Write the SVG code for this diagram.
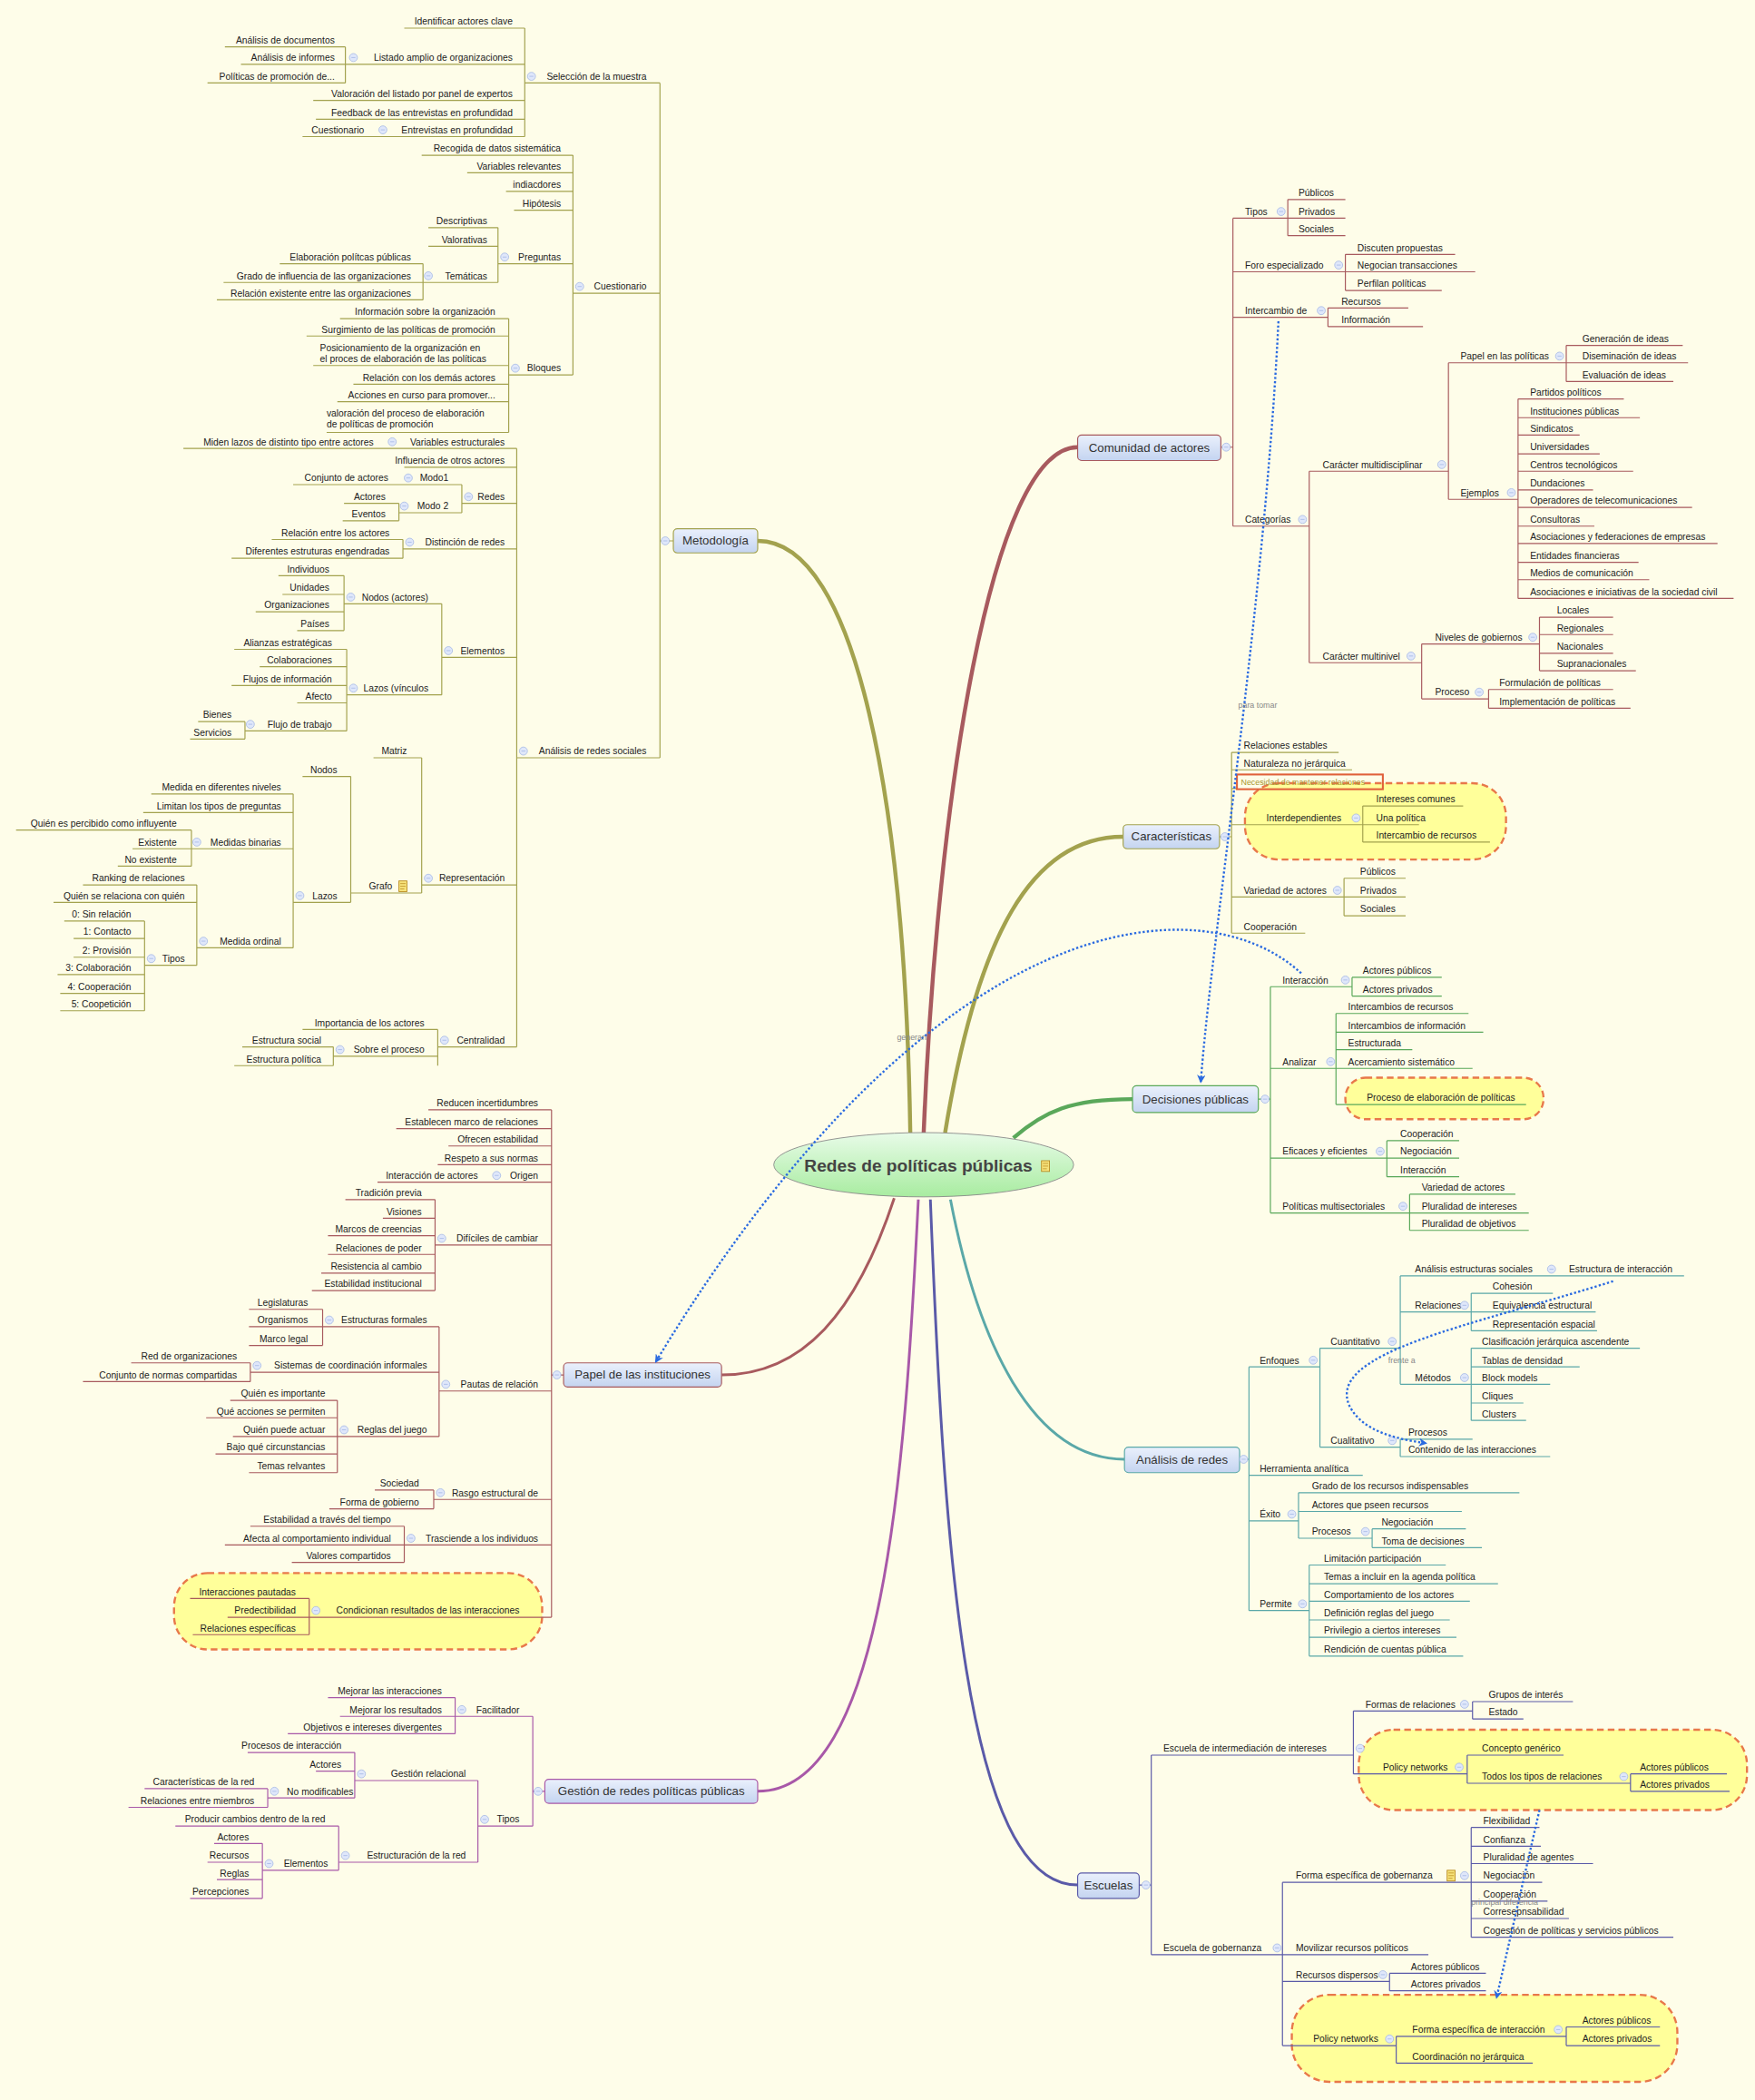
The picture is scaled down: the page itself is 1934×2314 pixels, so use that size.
<svg xmlns="http://www.w3.org/2000/svg" xmlns:xlink="http://www.w3.org/1999/xlink" width="1934" height="2314" viewBox="0 0 1934 2314">
<defs>
<style>
text{font-family:"Liberation Sans","DejaVu Sans",sans-serif;font-size:7px;fill:#222}
.e{text-anchor:end}
.ln{fill:none;stroke-width:0.8;stroke-linejoin:round}
.ol{stroke:#a3a24e}.rd{stroke:#a85a5e}.gr{stroke:#5aa85a}.tl{stroke:#5aa8a8}.in{stroke:#5a5aa8}.pu{stroke:#a858a8}
.box{fill:url(#bg);stroke-width:0.8}
.mt{font-size:9px;fill:#333}
.cl{fill:#ffff9a;stroke:#e8784a;stroke-width:1.6;stroke-dasharray:5 3}
.rel{fill:none;stroke:#2a6ae0;stroke-width:1.6;stroke-dasharray:1.6 1.6}
.rl{font-size:6px;fill:#888}
.c circle{fill:#dfe7fa;stroke:#9fb4e4;stroke-width:0.5}
</style>
<linearGradient id="bg" x1="0" y1="0" x2="0" y2="1"><stop offset="0" stop-color="#eaf0fc"/><stop offset="1" stop-color="#c4d4f0"/></linearGradient>
<linearGradient id="cg" x1="0" y1="0" x2="0" y2="1"><stop offset="0" stop-color="#e8fbe8"/><stop offset="1" stop-color="#a8eca0"/></linearGradient>
<g id="c" class="c"><circle r="3"/><path d="M-1.5 0H1.5" stroke="#9fb4e4" stroke-width="0.5"/></g>
<g id="note"><rect x="-3" y="-4" width="6" height="8" fill="#f6e27a" stroke="#b88a20" stroke-width="0.6"/><path d="M-2 -2H2M-2 0H2M-2 2H1" stroke="#b88a20" stroke-width="0.5"/></g>
<marker id="ar" viewBox="0 0 10 10" refX="8" refY="5" markerWidth="4" markerHeight="4" orient="auto"><path d="M0 0L10 5L0 10L3 5Z" fill="#2a6ae0"/></marker>
</defs>
<rect width="1934" height="2314" fill="#fefde9"/>
<g transform="scale(1.47521)">
<g id="clouds">
<rect class="cl" x="130" y="1175" width="275" height="57" rx="25"/>
<rect class="cl" x="930" y="585" width="195" height="57" rx="25"/>
<rect class="cl" x="1005" y="805" width="148" height="31" rx="15"/>
<rect class="cl" x="1015" y="1292" width="290" height="60" rx="26"/>
<rect class="cl" x="965" y="1490" width="288" height="65" rx="28"/>
</g>
<g id="connectors">
<path d="M680 846 C676 600 640 404 566 404" fill="none" stroke="#a3a24e" stroke-width="3"/>
<path d="M690 846 C700 600 740 334 805 334" fill="none" stroke="#a85a5e" stroke-width="3"/>
<path d="M706 846 C730 700 770 625 839 625" fill="none" stroke="#a3a24e" stroke-width="3"/>
<path d="M757 850 C780 830 800 821 846 821" fill="none" stroke="#5aa85a" stroke-width="3"/>
<path d="M668 895 C640 980 600 1027 539 1027" fill="none" stroke="#a85a5e" stroke-width="2"/>
<path d="M686 896 C676 1100 660 1338 566 1338" fill="none" stroke="#a858a8" stroke-width="2"/>
<path d="M695 896 C705 1150 720 1408 805 1408" fill="none" stroke="#5a5aa8" stroke-width="2"/>
<path d="M710 896 C730 1000 770 1090 840 1090" fill="none" stroke="#5aa8a8" stroke-width="2"/>
<path class="ln ol" d="M493 62V566M493 404H503M392 62H493M392 21V102M302 21H392M258 48H392M258 35V62M168 35H258M180 48H258M155 62H258M234 75H392M236 89H392M291 102H392M226 102H291M428 219H493M428 116V280M315 116H428M349 129H428M378 143H428M384 157H428M372 197H428M372 170V211M320 170H372M320 184H372M316 211H372M316 197V224M209 197H316M167 211H316M162 224H316M380 280H428M380 238V323M254 238H380M229 251H380M234 273H380M264 287H380M252 300H380M244 323H380M386 566H493M386 335V782M289 335H386M137 335H289M302 349H386M345 376H386M345 362V383M300 362H345M219 362H300M298 383H345M298 376V389M257 376H298M256 389H298M301 410H386M301 403V417M203 403H301M173 417H301M330 491H386M330 451V519M257 451H330M257 430V471M208 430H257M211 444H257M191 457H257M222 471H257M259 519H330M259 485V546M175 485H259M194 498H259M173 512H259M222 525H259M183 546H259M183 539V552M148 539H183M142 552H183M315 661H386M315 566V667M279 566H315M262 667H315M262 580V674M226 580H262M219 674H262M219 593V708M113 593H219M107 607H219M143 634H219M143 620V647M12 620H143M99 634H143M88 647H143M147 708H219M147 661V721M62 661H147M40 674H147M108 721H147M108 688V755M48 688H108M55 701H108M55 715H108M43 728H108M45 742H108M45 755H108M327 782H386M327 769V796M226 769H327M249 789H327M249 782V796M181 782H249M175 796H249"/>
<path class="ln rd" d="M412 1027H421M412 829V1208M320 829H412M296 843H412M335 856H412M327 870H412M366 883H412M282 883H366M325 930H412M325 896V964M258 896H325M286 910H325M245 923H325M245 937H325M240 951H325M233 964H325M328 1039H412M328 991V1073M241 991H328M241 978V1005M186 978H241M186 991H241M186 1005H241M187 1025H328M187 1018V1032M98 1018H187M62 1032H187M252 1073H328M252 1046V1100M172 1046H252M154 1059H252M174 1073H252M161 1086H252M186 1100H252M324 1120H412M324 1113V1127M280 1113H324M246 1127H324M302 1154H412M302 1140V1167M187 1140H302M168 1154H302M218 1167H302M231 1208H412M231 1194V1221M142 1194H231M170 1208H231M144 1221H231"/>
<path class="ln pu" d="M398 1338H407M398 1282V1364M340 1282H398M340 1268V1295M245 1268H340M254 1282H340M215 1295H340M357 1364H398M357 1330V1391M265 1330H357M265 1309V1343M185 1309H265M236 1323H265M200 1343H265M200 1336V1350M108 1336H200M96 1350H200M253 1391H357M253 1364V1397M131 1364H253M196 1397H253M196 1377V1418M160 1377H196M155 1391H196M162 1404H196M142 1418H196"/>
<path class="ln rd" d="M912 334H921M921 163V393M921 163H962M962 149V176M962 149H1005M962 163H1005M962 176H1005M921 203H1005M1005 190V217M1005 190H1087M1005 203H1102M1005 217H1077M921 237H992M992 230V244M992 230H1052M992 244H1063M921 393H978M978 352V495M978 352H1082M1082 271V373M1082 271H1170M1170 258V285M1170 258H1257M1170 271H1261M1170 285H1250M1082 373H1134M1134 298V447M1134 298H1213M1134 312H1225M1134 325H1180M1134 339H1195M1134 352H1220M1134 366H1190M1134 379H1264M1134 393H1191M1134 406H1283M1134 420H1224M1134 433H1232M1134 447H1295M978 495H1062M1062 481V522M1062 481H1150M1150 461V501M1150 461H1205M1150 474H1205M1150 488H1205M1150 501H1222M1062 522H1112M1112 515V529M1112 515H1205M1112 529H1218"/>
<path class="ln ol" d="M911 625H920M920 562V697M920 562H1000M920 575H1010M920 589H924M920 616H1018M1018 602V629M1018 602H1093M1018 616H1060M1018 629H1113M920 670H1004M1004 656V684M1004 656H1050M1004 670H1050M1004 684H1050M920 697H975"/>
<path class="ln gr" d="M940 821H949M949 737V906M949 737H1010M1010 730V744M1010 730H1077M1010 744H1077M949 798H998M998 757V825M998 757H1097M998 771H1108M998 784H1055M998 798H1100M998 825H1140M949 865H1036M1036 852V879M1036 852H1090M1036 865H1090M1036 879H1090M949 906H1053M1053 892V919M1053 892H1132M1053 906H1142M1053 919H1142"/>
<path class="ln tl" d="M926 1090H933M933 1021V1203M933 1021H986M986 1007V1081M986 1007H1046M1046 953V1034M1046 953H1258M1046 980H1099M1099 966V994M1099 966H1160M1099 980H1192M1099 994H1193M1046 1034H1099M1099 1007V1061M1099 1007H1225M1099 1021H1180M1099 1034H1158M1099 1048H1138M1099 1061H1140M986 1081H1046M1046 1075V1088M1046 1075H1100M1046 1088H1158M933 1102H1018M933 1136H970M970 1115V1149M970 1115H1135M970 1129H1092M970 1149H1025M1025 1142V1156M1025 1142H1095M1025 1156H1107M933 1203H978M978 1169V1237M978 1169H1080M978 1183H1119M978 1196H1098M978 1210H1083M978 1223H1088M978 1237H1093"/>
<path class="ln in" d="M851 1408H860M860 1311V1460M860 1311H1011M1011 1278V1325M1011 1278H1100M1100 1271V1284M1100 1271H1175M1100 1284H1138M1011 1325H1096M1096 1311V1332M1096 1311H1168M1096 1332H1218M1218 1325V1338M1218 1325H1290M1218 1338H1292M860 1460H958M958 1406V1528M958 1406H1099M1099 1365V1447M1099 1365H1150M1099 1379H1151M1099 1392H1190M1099 1406H1152M1099 1420H1156M1099 1433H1172M1099 1447H1250M958 1460H1067M958 1480H1038M1038 1474V1487M1038 1474H1110M1038 1487H1110M958 1528H1043M1043 1521V1541M1043 1521H1170M1170 1514V1528M1170 1514H1240M1170 1528H1240M1043 1541H1145"/>
</g>
<g id="center">
<ellipse cx="690" cy="870" rx="112" ry="24" fill="url(#cg)" stroke="#888" stroke-width="0.6"/>
<text x="686" y="875" style="font-size:13px;font-weight:bold;fill:#444;text-anchor:middle">Redes de políticas públicas</text>
<use href="#note" x="781" y="871"/>
</g>
<g id="main">
<g id="n-metodologia"><rect class="box ol" x="503" y="395" width="63" height="18" rx="3"/><text class="mt" x="534.5" y="407" style="text-anchor:middle">Metodología</text><use href="#c" x="497" y="404"/></g>
<g id="n-papel"><rect class="box rd" x="421" y="1018" width="118" height="18" rx="3"/><text class="mt" x="480" y="1030" style="text-anchor:middle">Papel de las instituciones</text><use href="#c" x="416" y="1027"/></g>
<g id="n-gestion"><rect class="box pu" x="407" y="1329" width="159" height="18" rx="3"/><text class="mt" x="486.5" y="1341" style="text-anchor:middle">Gestión de redes políticas públicas</text><use href="#c" x="402" y="1338"/></g>
<g id="n-comunidad"><rect class="box rd" x="805" y="325" width="107" height="19" rx="3"/><text class="mt" x="858.5" y="337.5" style="text-anchor:middle">Comunidad de actores</text><use href="#c" x="916" y="334"/></g>
<g id="n-caracteristicas"><rect class="box ol" x="839" y="616" width="72" height="18" rx="3"/><text class="mt" x="875" y="628" style="text-anchor:middle">Características</text><use href="#c" x="915" y="625"/></g>
<g id="n-decisiones"><rect class="box gr" x="846" y="811" width="94" height="20" rx="3"/><text class="mt" x="893" y="824" style="text-anchor:middle">Decisiones públicas</text><use href="#c" x="945" y="821"/></g>
<g id="n-analisis"><rect class="box tl" x="840" y="1081" width="86" height="19" rx="3"/><text class="mt" x="883" y="1093.5" style="text-anchor:middle">Análisis de redes</text><use href="#c" x="929" y="1090"/></g>
<g id="n-escuelas"><rect class="box in" x="805" y="1399" width="46" height="19" rx="3"/><text class="mt" x="828" y="1411.5" style="text-anchor:middle">Escuelas</text><use href="#c" x="856" y="1408"/></g>
</g>
<g id="metodologia-nodes">
<text class="e" x="483" y="59.5">Selección de la muestra</text>
<text class="e" x="383" y="18.5">Identificar actores clave</text>
<text class="e" x="383" y="45.5">Listado amplio de organizaciones</text>
<text class="e" x="250" y="32.5">Análisis de documentos</text>
<text class="e" x="250" y="45.5">Análisis de informes</text>
<text class="e" x="250" y="59.5">Políticas de promoción de...</text>
<text class="e" x="383" y="72.5">Valoración del listado por panel de expertos</text>
<text class="e" x="383" y="86.5">Feedback de las entrevistas en profundidad</text>
<text class="e" x="383" y="99.5">Entrevistas en profundidad</text>
<text class="e" x="272" y="99.5">Cuestionario</text>
<text class="e" x="483" y="216.5">Cuestionario</text>
<text class="e" x="419" y="113.5">Recogida de datos sistemática</text>
<text class="e" x="419" y="126.5">Variables relevantes</text>
<text class="e" x="419" y="140.5">indiacdores</text>
<text class="e" x="419" y="154.5">Hipótesis</text>
<text class="e" x="419" y="194.5">Preguntas</text>
<text class="e" x="364" y="167.5">Descriptivas</text>
<text class="e" x="364" y="181.5">Valorativas</text>
<text class="e" x="364" y="208.5">Temáticas</text>
<text class="e" x="307" y="194.5">Elaboración polítcas públicas</text>
<text class="e" x="307" y="208.5">Grado de influencia de las organizaciones</text>
<text class="e" x="307" y="221.5">Relación existente entre las organizaciones</text>
<text class="e" x="419" y="277.5">Bloques</text>
<text class="e" x="370" y="235.5">Información sobre la organización</text>
<text class="e" x="370" y="248.5">Surgimiento de las políticas de promoción</text>
<text x="239" y="262">Posicionamiento de la organización en</text>
<text x="239" y="270.5">el proces de elaboración de las políticas</text>
<text class="e" x="370" y="284.5">Relación con los demás actores</text>
<text class="e" x="370" y="297.5">Acciones en curso para promover...</text>
<text x="244" y="311">valoración del proceso de elaboración</text>
<text x="244" y="319.5">de políticas de promoción</text>
<text class="e" x="483" y="563.5">Análisis de redes sociales</text>
<text class="e" x="377" y="332.5">Variables estructurales</text>
<text class="e" x="279" y="332.5">Miden lazos de distinto tipo entre actores</text>
<text class="e" x="377" y="346.5">Influencia de otros actores</text>
<text class="e" x="377" y="373.5">Redes</text>
<text class="e" x="335" y="359.5">Modo1</text>
<text class="e" x="290" y="359.5">Conjunto de actores</text>
<text class="e" x="335" y="380.5">Modo 2</text>
<text class="e" x="288" y="373.5">Actores</text>
<text class="e" x="288" y="386.5">Eventos</text>
<text class="e" x="377" y="407.5">Distinción de redes</text>
<text class="e" x="291" y="400.5">Relación entre los actores</text>
<text class="e" x="291" y="414.5">Diferentes estruturas engendradas</text>
<text class="e" x="377" y="488.5">Elementos</text>
<text class="e" x="320" y="448.5">Nodos (actores)</text>
<text class="e" x="246" y="427.5">Individuos</text>
<text class="e" x="246" y="441.5">Unidades</text>
<text class="e" x="246" y="454.5">Organizaciones</text>
<text class="e" x="246" y="468.5">Países</text>
<text class="e" x="320" y="516.5">Lazos (vínculos</text>
<text class="e" x="248" y="482.5">Alianzas estratégicas</text>
<text class="e" x="248" y="495.5">Colaboraciones</text>
<text class="e" x="248" y="509.5">Flujos de información</text>
<text class="e" x="248" y="522.5">Afecto</text>
<text class="e" x="248" y="543.5">Flujo de trabajo</text>
<text class="e" x="173" y="536.5">Bienes</text>
<text class="e" x="173" y="549.5">Servicios</text>
<text class="e" x="377" y="658.5">Representación</text>
<text class="e" x="304" y="563.5">Matriz</text>
<text class="e" x="293" y="664.5">Grafo</text>
<use href="#note" x="301" y="662"/>
<text class="e" x="252" y="577.5">Nodos</text>
<text class="e" x="252" y="671.5">Lazos</text>
<text class="e" x="210" y="590.5">Medida en diferentes niveles</text>
<text class="e" x="210" y="604.5">Limitan los tipos de preguntas</text>
<text class="e" x="210" y="631.5">Medidas binarias</text>
<text class="e" x="132" y="617.5">Quién es percibido como influyente</text>
<text class="e" x="132" y="631.5">Existente</text>
<text class="e" x="132" y="644.5">No existente</text>
<text class="e" x="210" y="705.5">Medida ordinal</text>
<text class="e" x="138" y="658.5">Ranking de relaciones</text>
<text class="e" x="138" y="671.5">Quién se relaciona con quién</text>
<text class="e" x="138" y="718.5">Tipos</text>
<text class="e" x="98" y="685.5">0: Sin relación</text>
<text class="e" x="98" y="698.5">1: Contacto</text>
<text class="e" x="98" y="712.5">2: Provisión</text>
<text class="e" x="98" y="725.5">3: Colaboración</text>
<text class="e" x="98" y="739.5">4: Cooperación</text>
<text class="e" x="98" y="752.5">5: Coopetición</text>
<text class="e" x="377" y="779.5">Centralidad</text>
<text class="e" x="317" y="766.5">Importancia de los actores</text>
<text class="e" x="317" y="786.5">Sobre el proceso</text>
<text class="e" x="240" y="779.5">Estructura social</text>
<text class="e" x="240" y="793.5">Estructura política</text>
<use href="#c" x="397" y="57"/><use href="#c" x="264" y="43"/><use href="#c" x="286" y="97"/><use href="#c" x="433" y="214"/><use href="#c" x="377" y="192"/><use href="#c" x="320" y="206"/><use href="#c" x="385" y="275"/><use href="#c" x="391" y="561"/><use href="#c" x="293" y="330"/><use href="#c" x="350" y="371"/><use href="#c" x="305" y="357"/><use href="#c" x="302" y="378"/><use href="#c" x="306" y="405"/><use href="#c" x="335" y="486"/><use href="#c" x="262" y="446"/><use href="#c" x="264" y="514"/><use href="#c" x="187" y="541"/><use href="#c" x="320" y="656"/><use href="#c" x="224" y="669"/><use href="#c" x="147" y="629"/><use href="#c" x="152" y="703"/><use href="#c" x="113" y="716"/><use href="#c" x="332" y="777"/><use href="#c" x="254" y="784"/>
</g>
<g id="papel-nodes">
<text class="e" x="402" y="826.5">Reducen incertidumbres</text>
<text class="e" x="402" y="840.5">Establecen marco de relaciones</text>
<text class="e" x="402" y="853.5">Ofrecen estabilidad</text>
<text class="e" x="402" y="867.5">Respeto a sus normas</text>
<text class="e" x="402" y="880.5">Origen</text>
<text class="e" x="357" y="880.5">Interacción de actores</text>
<text class="e" x="402" y="927.5">Difíciles de cambiar</text>
<text class="e" x="315" y="893.5">Tradición previa</text>
<text class="e" x="315" y="907.5">Visiones</text>
<text class="e" x="315" y="920.5">Marcos de creencias</text>
<text class="e" x="315" y="934.5">Relaciones de poder</text>
<text class="e" x="315" y="948.5">Resistencia al cambio</text>
<text class="e" x="315" y="961.5">Estabilidad institucional</text>
<text class="e" x="402" y="1036.5">Pautas de relación</text>
<text class="e" x="319" y="988.5">Estructuras formales</text>
<text class="e" x="230" y="975.5">Legislaturas</text>
<text class="e" x="230" y="988.5">Organismos</text>
<text class="e" x="230" y="1002.5">Marco legal</text>
<text class="e" x="319" y="1022.5">Sistemas de coordinación informales</text>
<text class="e" x="177" y="1015.5">Red de organizaciones</text>
<text class="e" x="177" y="1029.5">Conjunto de normas compartidas</text>
<text class="e" x="319" y="1070.5">Reglas del juego</text>
<text class="e" x="243" y="1043.5">Quién es importante</text>
<text class="e" x="243" y="1056.5">Qué acciones se permiten</text>
<text class="e" x="243" y="1070.5">Quién puede actuar</text>
<text class="e" x="243" y="1083.5">Bajo qué circunstancias</text>
<text class="e" x="243" y="1097.5">Temas relvantes</text>
<text class="e" x="402" y="1117.5">Rasgo estructural de</text>
<text class="e" x="313" y="1110.5">Sociedad</text>
<text class="e" x="313" y="1124.5">Forma de gobierno</text>
<text class="e" x="402" y="1151.5">Trasciende a los individuos</text>
<text class="e" x="292" y="1137.5">Estabilidad a través del tiempo</text>
<text class="e" x="292" y="1151.5">Afecta al comportamiento individual</text>
<text class="e" x="292" y="1164.5">Valores compartidos</text>
<text class="e" x="388" y="1205.5">Condicionan resultados de las interacciones</text>
<text class="e" x="221" y="1191.5">Interacciones pautadas</text>
<text class="e" x="221" y="1205.5">Predectibilidad</text>
<text class="e" x="221" y="1218.5">Relaciones específicas</text>
<use href="#c" x="371" y="878"/><use href="#c" x="330" y="925"/><use href="#c" x="333" y="1034"/><use href="#c" x="246" y="986"/><use href="#c" x="192" y="1020"/><use href="#c" x="257" y="1068"/><use href="#c" x="329" y="1115"/><use href="#c" x="307" y="1149"/><use href="#c" x="236" y="1203"/>
</g>
<g id="gestion-nodes">
<text class="e" x="388" y="1279.5">Facilitador</text>
<text class="e" x="330" y="1265.5">Mejorar las interacciones</text>
<text class="e" x="330" y="1279.5">Mejorar los resultados</text>
<text class="e" x="330" y="1292.5">Objetivos e intereses divergentes</text>
<text class="e" x="388" y="1361.5">Tipos</text>
<text class="e" x="348" y="1327.5">Gestión relacional</text>
<text class="e" x="255" y="1306.5">Procesos de interacción</text>
<text class="e" x="255" y="1320.5">Actores</text>
<text class="e" x="264" y="1340.5">No modificables</text>
<text class="e" x="190" y="1333.5">Características de la red</text>
<text class="e" x="190" y="1347.5">Relaciones entre miembros</text>
<text class="e" x="348" y="1388.5">Estructuración de la red</text>
<text class="e" x="243" y="1361.5">Producir cambios dentro de la red</text>
<text class="e" x="245" y="1394.5">Elementos</text>
<text class="e" x="186" y="1374.5">Actores</text>
<text class="e" x="186" y="1388.5">Recursos</text>
<text class="e" x="186" y="1401.5">Reglas</text>
<text class="e" x="186" y="1415.5">Percepciones</text>
<use href="#c" x="345" y="1277"/><use href="#c" x="362" y="1359"/><use href="#c" x="270" y="1325"/><use href="#c" x="205" y="1338"/><use href="#c" x="258" y="1386"/><use href="#c" x="201" y="1392"/>
</g>
<g id="comunidad-nodes">
<text x="930" y="160.5">Tipos</text>
<text x="970" y="146.5">Públicos</text><text x="970" y="160.5">Privados</text><text x="970" y="173.5">Sociales</text>
<text x="930" y="200.5">Foro especializado</text>
<text x="1014" y="187.5">Discuten propuestas</text><text x="1014" y="200.5">Negocian transacciones</text><text x="1014" y="214.5">Perfilan políticas</text>
<text x="930" y="234.5">Intercambio de</text>
<text x="1002" y="227.5">Recursos</text><text x="1002" y="241.5">Información</text>
<text x="930" y="390.5">Categorías</text>
<text x="988" y="349.5">Carácter multidisciplinar</text>
<text x="1091" y="268.5">Papel en las políticas</text>
<text x="1182" y="255.5">Generación de ideas</text><text x="1182" y="268.5">Diseminación de ideas</text><text x="1182" y="282.5">Evaluación de ideas</text>
<text x="1091" y="370.5">Ejemplos</text>
<text x="1143" y="295.5">Partidos políticos</text>
<text x="1143" y="309.5">Instituciones públicas</text>
<text x="1143" y="322.5">Sindicatos</text>
<text x="1143" y="336.5">Universidades</text>
<text x="1143" y="349.5">Centros tecnológicos</text>
<text x="1143" y="363.5">Dundaciones</text>
<text x="1143" y="376.5">Operadores de telecomunicaciones</text>
<text x="1143" y="390.5">Consultoras</text>
<text x="1143" y="403.5">Asociaciones y federaciones de empresas</text>
<text x="1143" y="417.5">Entidades financieras</text>
<text x="1143" y="430.5">Medios de comunicación</text>
<text x="1143" y="444.5">Asociaciones e iniciativas de la sociedad civil</text>
<text x="988" y="492.5">Carácter multinivel</text>
<text x="1072" y="478.5">Niveles de gobiernos</text>
<text x="1163" y="458.5">Locales</text><text x="1163" y="471.5">Regionales</text><text x="1163" y="485.5">Nacionales</text><text x="1163" y="498.5">Supranacionales</text>
<text x="1072" y="519.5">Proceso</text>
<text x="1120" y="512.5">Formulación de políticas</text><text x="1120" y="526.5">Implementación de políticas</text>
<use href="#c" x="957" y="158"/><use href="#c" x="1000" y="198"/><use href="#c" x="987" y="232"/><use href="#c" x="973" y="388"/><use href="#c" x="1077" y="347"/><use href="#c" x="1165" y="266"/><use href="#c" x="1129" y="368"/><use href="#c" x="1054" y="490"/><use href="#c" x="1145" y="476"/><use href="#c" x="1105" y="517"/>
</g>
<g id="caracteristicas-nodes">
<text x="929" y="559.5">Relaciones estables</text>
<text x="929" y="572.5">Naturaleza no jerárquica</text>
<rect x="924" y="578.5" width="109" height="11" fill="none" stroke="#e0603a" stroke-width="1.4"/>
<text x="927" y="586.5" style="font-size:6px;fill:#a8962e">Necesidad de mantener relaciones</text>
<text x="946" y="613.5">Interdependientes</text>
<text x="1028" y="599.5">Intereses comunes</text><text x="1028" y="613.5">Una política</text><text x="1028" y="626.5">Intercambio de recursos</text>
<text x="929" y="667.5">Variedad de actores</text>
<text x="1016" y="653.5">Públicos</text><text x="1016" y="667.5">Privados</text><text x="1016" y="681.5">Sociales</text>
<text x="929" y="694.5">Cooperación</text>
<use href="#c" x="1013" y="611"/><use href="#c" x="999" y="665"/>
</g>
<g id="decisiones-nodes">
<text x="958" y="734.5">Interacción</text>
<text x="1018" y="727.5">Actores públicos</text><text x="1018" y="741.5">Actores privados</text>
<text x="958" y="795.5">Analizar</text>
<text x="1007" y="754.5">Intercambios de recursos</text><text x="1007" y="768.5">Intercambios de información</text><text x="1007" y="781.5">Estructurada</text><text x="1007" y="795.5">Acercamiento sistemático</text>
<text x="1021" y="822.5">Proceso de elaboración de políticas</text>
<text x="958" y="862.5">Eficaces y eficientes</text>
<text x="1046" y="849.5">Cooperación</text><text x="1046" y="862.5">Negociación</text><text x="1046" y="876.5">Interacción</text>
<text x="958" y="903.5">Políticas multisectoriales</text>
<text x="1062" y="889.5">Variedad de actores</text><text x="1062" y="903.5">Pluralidad de intereses</text><text x="1062" y="916.5">Pluralidad de objetivos</text>
<use href="#c" x="1005" y="732"/><use href="#c" x="994" y="793"/><use href="#c" x="1031" y="860"/><use href="#c" x="1048" y="901"/>
</g>
<g id="analisis-nodes">
<text x="941" y="1018.5">Enfoques</text>
<text x="994" y="1004.5">Cuantitativo</text>
<text x="1057" y="950.5">Análisis estructuras sociales</text>
<text x="1172" y="950.5">Estructura de interacción</text>
<text x="1057" y="977.5">Relaciones</text>
<text x="1115" y="963.5">Cohesión</text><text x="1115" y="977.5">Equivalencia estructural</text><text x="1115" y="991.5">Representación espacial</text>
<text x="1057" y="1031.5">Métodos</text>
<text x="1107" y="1004.5">Clasificación jerárquica ascendente</text><text x="1107" y="1018.5">Tablas de densidad</text><text x="1107" y="1031.5">Block models</text><text x="1107" y="1045.5">Cliques</text><text x="1107" y="1058.5">Clusters</text>
<text x="994" y="1078.5">Cualitativo</text>
<text x="1052" y="1072.5">Procesos</text><text x="1052" y="1085.5">Contenido de las interacciones</text>
<text x="941" y="1099.5">Herramienta analítica</text>
<text x="941" y="1133.5">Éxito</text>
<text x="980" y="1112.5">Grado de los recursos indispensables</text><text x="980" y="1126.5">Actores que pseen recursos</text>
<text x="980" y="1146.5">Procesos</text>
<text x="1032" y="1139.5">Negociación</text><text x="1032" y="1153.5">Toma de decisiones</text>
<text x="941" y="1200.5">Permite</text>
<text x="989" y="1166.5">Limitación participación</text><text x="989" y="1180.5">Temas a incluir en la agenda política</text><text x="989" y="1193.5">Comportamiento de los actores</text><text x="989" y="1207.5">Definición reglas del juego</text><text x="989" y="1220.5">Privilegio a ciertos intereses</text><text x="989" y="1234.5">Rendición de cuentas pública</text>
<use href="#c" x="981" y="1016"/><use href="#c" x="1040" y="1002"/><use href="#c" x="1159" y="948"/><use href="#c" x="1094" y="975"/><use href="#c" x="1094" y="1029"/><use href="#c" x="1040" y="1076"/><use href="#c" x="965" y="1131"/><use href="#c" x="1020" y="1144"/><use href="#c" x="973" y="1198"/>
</g>
<g id="escuelas-nodes">
<text x="869" y="1308.5">Escuela de intermediación de intereses</text>
<text x="1020" y="1275.5">Formas de relaciones</text>
<text x="1112" y="1268.5">Grupos de interés</text><text x="1112" y="1281.5">Estado</text>
<text x="1033" y="1322.5">Policy networks</text>
<text x="1107" y="1308.5">Concepto genérico</text>
<text x="1107" y="1329.5">Todos los tipos de relaciones</text>
<text x="1225" y="1322.5">Actores públicos</text><text x="1225" y="1335.5">Actores privados</text>
<text x="869" y="1457.5">Escuela de gobernanza</text>
<text x="968" y="1403.5">Forma específica de gobernanza</text>
<use href="#note" x="1084" y="1401"/>
<text x="1108" y="1362.5">Flexibilidad</text><text x="1108" y="1376.5">Confianza</text><text x="1108" y="1389.5">Pluralidad de agentes</text><text x="1108" y="1403.5">Negociación</text><text x="1108" y="1417.5">Cooperación</text><text x="1108" y="1430.5">Corresepnsabilidad</text><text x="1108" y="1444.5">Cogestión de políticas y servicios públicos</text>
<text x="968" y="1457.5">Movilizar recursos políticos</text>
<text x="968" y="1477.5">Recursos dispersos</text>
<text x="1054" y="1471.5">Actores públicos</text><text x="1054" y="1484.5">Actores privados</text>
<text x="981" y="1525.5">Policy networks</text>
<text x="1055" y="1518.5">Forma específica de interacción</text>
<text x="1182" y="1511.5">Actores públicos</text><text x="1182" y="1525.5">Actores privados</text>
<text x="1055" y="1538.5">Coordinación no jerárquica</text>
<use href="#c" x="1016" y="1306"/><use href="#c" x="1094" y="1273"/><use href="#c" x="1090" y="1320"/><use href="#c" x="1213" y="1327"/><use href="#c" x="954" y="1455"/><use href="#c" x="1094" y="1401"/><use href="#c" x="1033" y="1475"/><use href="#c" x="1038" y="1523"/><use href="#c" x="1164" y="1516"/>
</g>
<g id="relations">
<path class="rel" d="M955 240 C945 450 905 700 897 808" marker-end="url(#ar)"/>
<text class="rl" x="925" y="529">para tomar</text>
<path class="rel" d="M972 727 C900 660 700 670 490 1017" marker-end="url(#ar)"/>
<text class="rl" x="670" y="777">generan</text>
<path class="rel" d="M1205 957 C1100 990 990 1010 1008 1050 C1018 1070 1045 1075 1065 1078" marker-end="url(#ar)"/>
<text class="rl" x="1037" y="1018">frente a</text>
<path class="rel" d="M1150 1352 L1118 1492" marker-end="url(#ar)"/>
<text class="rl" x="1099" y="1423">principal diferencia</text>
</g>
</g>
</svg>
